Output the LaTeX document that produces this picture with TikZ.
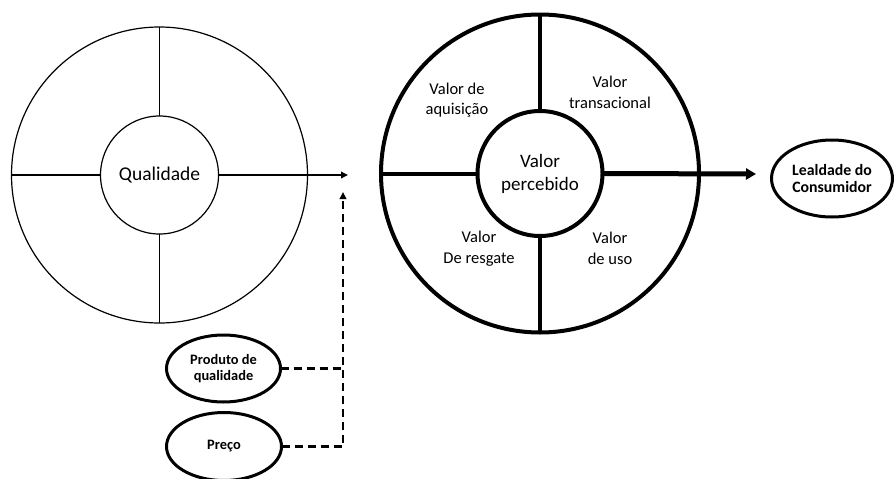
\documentclass[tikz,border=0pt]{standalone}
\usepackage{fontspec}
\setmainfont{Carlito}
\usetikzlibrary{arrows.meta,shapes.geometric}

\begin{document}
\begin{tikzpicture}[x=1pt,y=-1pt,
  thinring/.style={circle,draw,line width=1.2pt,inner sep=0pt,outer sep=0pt},
  thickring/.style={circle,draw,line width=4pt,inner sep=0pt,outer sep=0pt},
  thinspoke/.style={line width=1.2pt},
  thickspoke/.style={line width=4pt},
  factor/.style={ellipse,draw,line width=3pt,inner sep=0pt,outer sep=0pt,
    align=center,font=\fontsize{14.4}{16.5}\selectfont\bfseries},
  quadlabel/.style={align=center,font=\fontsize{16.5}{20.5}\selectfont},
  dashlink/.style={line width=2.5pt,dash pattern=on 8pt off 5pt}]
\useasboundingbox (0,0) rectangle (894,479);

% quality wheel
\node[thinring,minimum size=296pt] (qOuter) at (159.5,175) {};
\node[thinring,minimum size=118pt,font=\fontsize{19.5}{23}\selectfont] (qInner) at (159.5,175) {Qualidade};
\draw[thinspoke] (qOuter.north) -- (qInner.north);
\draw[thinspoke] (qOuter.south) -- (qInner.south);
\draw[thinspoke] (qOuter.west) -- (qInner.west);
\coordinate (tipL) at (348,175);
\draw[line width=2pt,-{Triangle[length=7pt,width=6.5pt]}] (qInner.east) -- (tipL);

% perceived value wheel
\node[thickring,minimum size=318pt] (vOuter) at (540,173.5) {};
\node[thickring,minimum size=125pt,align=center,font=\fontsize{19}{23}\selectfont] (vInner) at (540,173.5) {Valor\\percebido};
\draw[thickspoke] (vOuter.north) -- (vInner.north);
\draw[thickspoke] (vOuter.south) -- (vInner.south);
\draw[thickspoke] (vOuter.west) -- (vInner.west);
\node[quadlabel] (qAq) at (457,100) {Valor de\\aquisição};
\node[quadlabel] (qTr) at (610,92.5) {Valor\\transacional};
\node[quadlabel] (qRe) at (479,248.5) {Valor\\De resgate};
\node[quadlabel] (qUs) at (610,248.5) {Valor\\de uso};

% loyalty
\node[factor,minimum width=121pt,minimum height=77pt,font=\fontsize{15.8}{17}\selectfont\bfseries] (loyal) at (832,178.5) {Lealdade do\\Consumidor};
\coordinate (tipR) at (756,174);
\draw[line width=5pt,-{Triangle[length=10pt,width=11pt]}] (vInner.east) -- (tipR);

% antecedents
\node[factor,minimum width=114pt,minimum height=67pt] (prod) at (223.5,368.5) {Produto de\\qualidade};
\node[factor,minimum width=115pt,minimum height=68pt] (preco) at (224,446.5) {Preço};
\coordinate (jA) at (343,368.5);
\coordinate (jB) at (343,446.5);
\coordinate (tipUp) at (343,192);
\draw[dashlink] (prod.east) -- (jA);
\draw[dashlink,-{Triangle[length=7pt,width=6.5pt]}] (preco.east) -- (jB) -- (tipUp);
\end{tikzpicture}
\end{document}
